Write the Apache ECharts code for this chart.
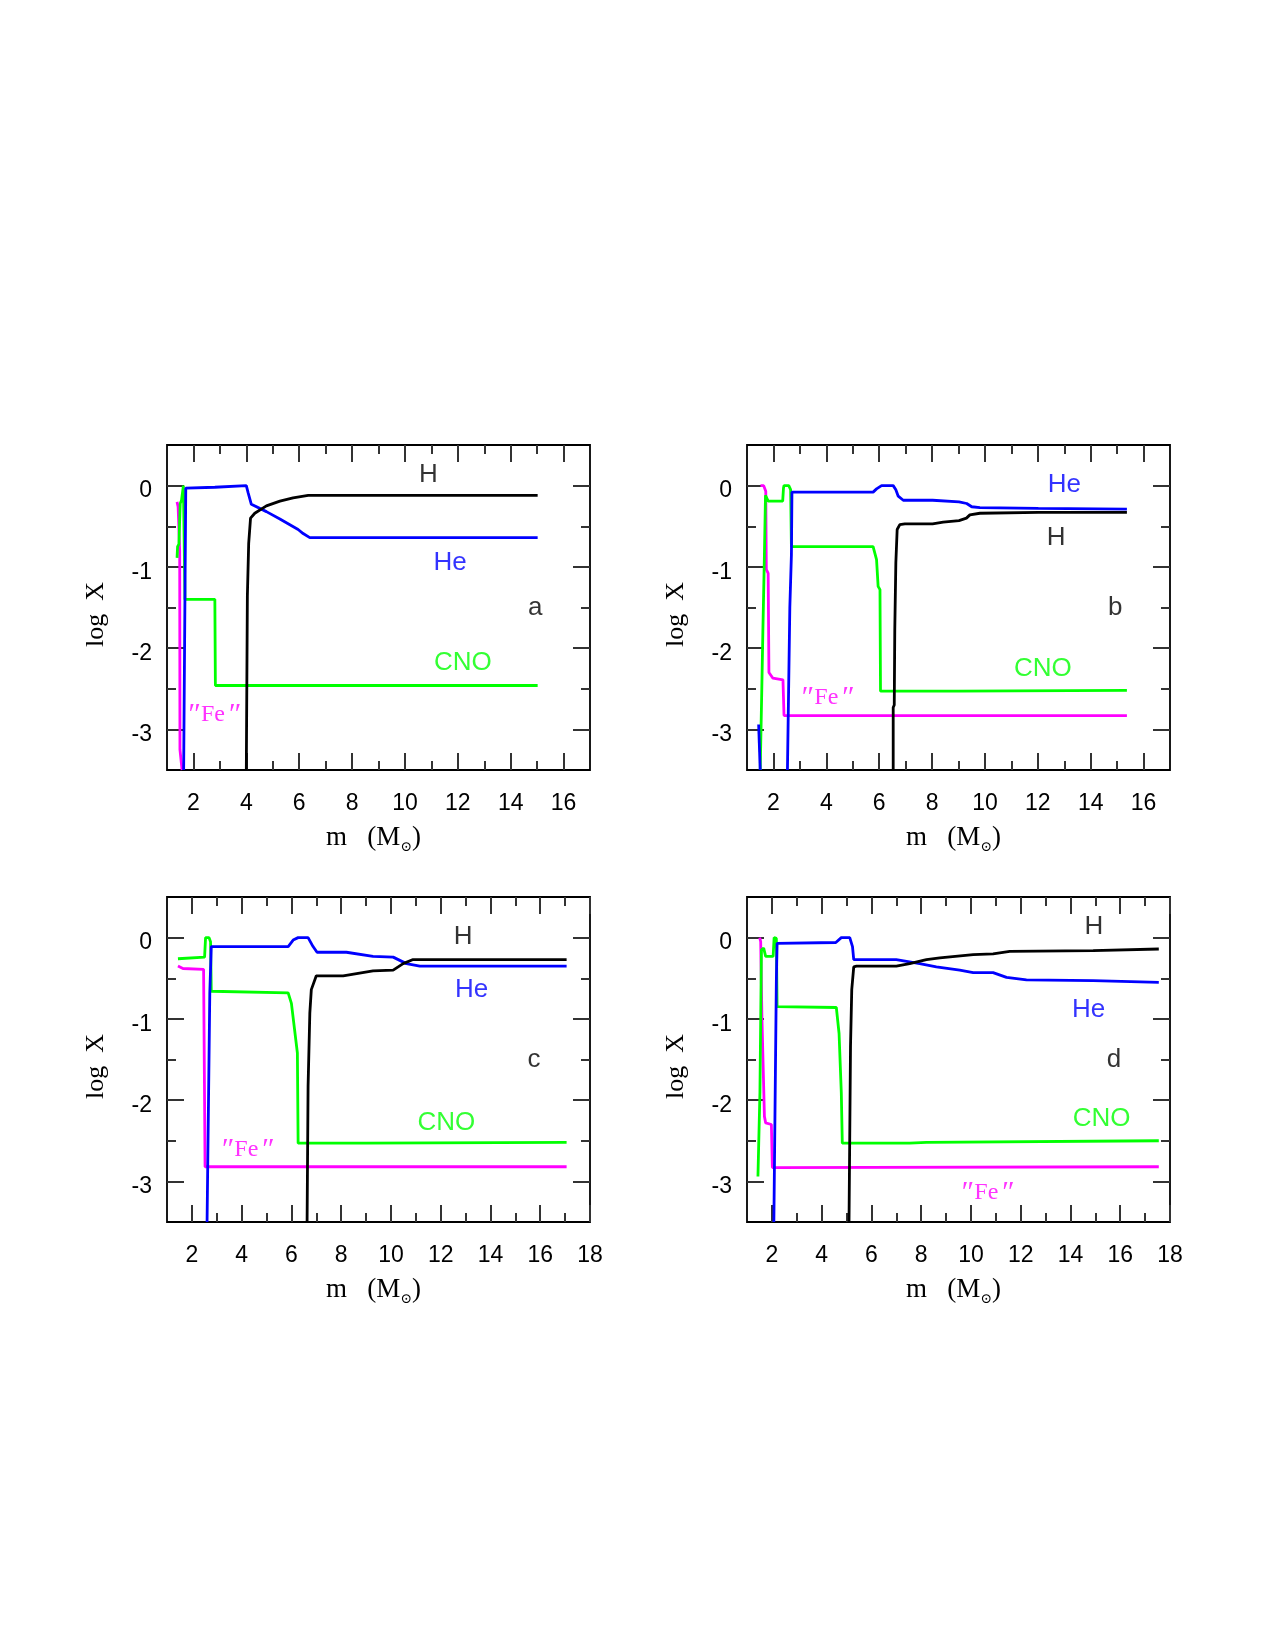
<!DOCTYPE html>
<html>
<head>
<meta charset="utf-8">
<script src="https://cdn.jsdelivr.net/npm/echarts@6/dist/echarts.min.js"></script>
<style>
  html, body { margin: 0; padding: 0; background: #fff; }
  #chart { width: 1275px; height: 1650px; }
</style>
</head>
<body>
<div id="chart"></div>
<script>
// ---- data: [m (Msun), log X] ----
var aH   = [[4.0,-3.5],[4.04,-1.36],[4.09,-0.71],[4.16,-0.40],[4.32,-0.34],[4.76,-0.25],[5.27,-0.19],[5.77,-0.15],[6.34,-0.12],[15.02,-0.12]];
var aHe  = [[1.63,-3.5],[1.71,-0.03],[2.81,-0.02],[2.87,0],[4.0,0],[4.07,-0.09],[4.19,-0.23],[4.76,-0.32],[5.27,-0.41],[5.96,-0.54],[6.15,-0.59],[6.4,-0.64],[15.02,-0.64]];
var aCNO = [[1.38,-0.89],[1.40,-0.75],[1.45,-0.72],[1.50,-0.22],[1.55,-0.18],[1.62,0],[1.66,0],[1.68,-1.40],[2.81,-1.40],[2.83,-2.46],[15.02,-2.46]];
var aFe  = [[1.38,-0.2],[1.42,-0.26],[1.48,-0.8],[1.49,-3.25],[1.55,-3.25],[1.57,-3.5]];

var bH   = [[6.53,-3.5],[6.53,-2.73],[6.57,-2.7],[6.59,-1.77],[6.63,-0.95],[6.68,-0.54],[6.78,-0.48],[6.97,-0.47],[8.02,-0.47],[8.42,-0.45],[9.02,-0.43],[9.3,-0.4],[9.43,-0.36],[9.81,-0.34],[12.02,-0.33],[15.37,-0.33]];
var bHe0 = [[1.44,-2.94],[1.5,-3.5]];
var bHe  = [[2.53,-3.5],[2.62,-1.5],[2.68,-0.85],[2.7,-0.08],[5.77,-0.08],[5.9,-0.04],[6.09,0],[6.53,0],[6.63,-0.05],[6.72,-0.13],[6.91,-0.18],[8.02,-0.18],[9.02,-0.2],[9.31,-0.22],[9.5,-0.26],[9.81,-0.27],[12.02,-0.28],[15.37,-0.29]];
var bCNO = [[1.5,-3.5],[1.56,-2.5],[1.6,-1.8],[1.65,-1.0],[1.7,-0.12],[1.75,-0.11],[1.8,-0.19],[2.35,-0.19],[2.38,-0.03],[2.4,0],[2.58,0],[2.65,-0.05],[2.68,-0.75],[5.77,-0.75],[5.9,-0.91],[5.96,-1.24],[6.03,-1.28],[6.05,-2.53],[9.0,-2.53],[15.37,-2.52]];
var bFe  = [[1.51,0],[1.63,0],[1.71,-0.07],[1.73,-1.03],[1.8,-1.08],[1.83,-2.3],[1.98,-2.37],[2.36,-2.39],[2.4,-2.83],[15.37,-2.83]];

var cH   = [[6.63,-3.5],[6.67,-1.83],[6.74,-0.93],[6.8,-0.64],[7.0,-0.47],[8.08,-0.47],[9.28,-0.41],[10.09,-0.4],[10.49,-0.32],[10.89,-0.27],[11.16,-0.27],[17.06,-0.27]];
var cHe  = [[2.61,-3.5],[2.72,-0.68],[2.78,-0.11],[5.87,-0.11],[6.07,-0.03],[6.27,0],[6.67,0],[6.87,-0.11],[7.03,-0.18],[8.21,-0.18],[9.28,-0.23],[10.09,-0.24],[10.62,-0.32],[11.16,-0.35],[17.06,-0.35]];
var cCNO = [[1.44,-0.26],[2.51,-0.24],[2.55,0],[2.69,0],[2.75,-0.05],[2.78,-0.66],[5.87,-0.68],[6.0,-0.81],[6.13,-1.14],[6.24,-1.42],[6.27,-2.53],[9.0,-2.53],[17.06,-2.52]];
var cFe  = [[1.44,-0.35],[1.64,-0.38],[2.47,-0.39],[2.53,-2.82],[17.06,-2.82]];

var dH   = [[5.1,-3.5],[5.16,-1.34],[5.21,-0.64],[5.29,-0.36],[5.4,-0.35],[7.0,-0.35],[7.54,-0.32],[8.21,-0.27],[8.75,-0.25],[10.09,-0.21],[10.89,-0.2],[11.56,-0.17],[14.91,-0.16],[17.55,-0.14]];
var dHe  = [[2.08,-3.5],[2.18,-0.52],[2.21,-0.07],[4.57,-0.06],[4.79,0],[5.13,0],[5.24,-0.11],[5.29,-0.27],[7.0,-0.27],[7.94,-0.32],[8.61,-0.36],[9.55,-0.4],[10.09,-0.43],[10.89,-0.43],[11.43,-0.49],[12.23,-0.52],[14.91,-0.53],[17.55,-0.55]];
var dCNO = [[1.44,-2.94],[1.52,-1.9],[1.58,-0.15],[1.67,-0.13],[1.75,-0.23],[2.05,-0.23],[2.09,0],[2.18,-0.01],[2.21,-0.85],[4.59,-0.86],[4.70,-1.18],[4.79,-1.91],[4.83,-2.53],[7.54,-2.53],[8.21,-2.52],[17.55,-2.5]];
var dFe  = [[1.51,0],[1.55,-0.05],[1.6,-0.99],[1.68,-1.0],[1.7,-2.2],[1.75,-2.28],[1.98,-2.3],[2.02,-2.83],[17.55,-2.82]];

// text labels: [text, m, logX, kind]
var FE = '{q|\u2033}{f|Fe}{q|\u2033}';
var aLabels = [['H',10.89,0.135,'H'],['He',11.71,-0.95,'He'],['CNO',12.19,-2.18,'CNO'],[FE,2.74,-2.82,'Fe'],['a',14.93,-1.5,'tag']];
var bLabels = [['He',13.0,0.01,'He'],['H',12.69,-0.64,'H'],['CNO',12.19,-2.25,'CNO'],[FE,4.0,-2.61,'Fe'],['b',14.93,-1.5,'tag']];
var cLabels = [['H',12.9,0.01,'H'],['He',13.24,-0.64,'He'],['CNO',12.23,-2.28,'CNO'],[FE,4.19,-2.61,'Fe'],['c',15.75,-1.5,'tag']];
var dLabels = [['H',14.94,0.135,'H'],['He',14.73,-0.89,'He'],['CNO',15.25,-2.23,'CNO'],[FE,10.62,-3.14,'Fe'],['d',15.75,-1.5,'tag']];

// ticks
var xMajorAB = [2,4,6,8,10,12,14,16];
var xMinorAB = [3,5,7,9,11,13,15];
var xMajorCD = [2,4,6,8,10,12,14,16,18];
var xMinorCD = [3,5,7,9,11,13,15,17];
var yMajor = [-3,-2,-1,0];
var yMinor = [-2.5,-1.5,-0.5];

var colors = { H: '#000000', He: '#0000ff', CNO: '#00ff00', Fe: '#ff00ff', tag: '#000000' };
var SANS = '"Liberation Sans", Arial, Helvetica, sans-serif';
var SERIF = '"Liberation Serif", "Times New Roman", "DejaVu Serif", serif';

var panels = [
  { pos: [167, 445], xmax: 17, xm: xMajorAB, xn: xMinorAB, lines: [['Fe', aFe], ['CNO', aCNO], ['He', aHe], ['H', aH]], labels: aLabels },
  { pos: [747, 445], xmax: 17, xm: xMajorAB, xn: xMinorAB, lines: [['Fe', bFe], ['CNO', bCNO], ['He', bHe0], ['He', bHe], ['H', bH]], labels: bLabels },
  { pos: [167, 897], xmax: 18, xm: xMajorCD, xn: xMinorCD, lines: [['Fe', cFe], ['CNO', cCNO], ['He', cHe], ['H', cH]], labels: cLabels },
  { pos: [747, 897], xmax: 18, xm: xMajorCD, xn: xMinorCD, lines: [['Fe', dFe], ['CNO', dCNO], ['He', dHe], ['H', dH]], labels: dLabels }
];

var option = { animation: false, backgroundColor: '#fff', grid: [], xAxis: [], yAxis: [], series: [] };

function tickAxis(g, pos, vals, len, isMain, p, dim) {
  var ax = {
    gridIndex: g, type: 'value', position: pos,
    axisLine: { show: false, onZero: false }, splitLine: { show: false },
    axisTick: { show: true, inside: true, length: len, customValues: vals, lineStyle: { color: '#333', width: 2 } },
    axisLabel: { show: false }
  };
  if (dim === 'x') { ax.min = 1; ax.max = p.xmax; } else { ax.min = -3.5; ax.max = 0.5; }
  if (isMain && dim === 'x') {
    ax.axisLabel = { show: true, customValues: p.xm, margin: 22, fontSize: 23, fontFamily: SANS, color: '#000' };
    ax.name = '{n|m   (M}{s|\u2299}{n|)}';
    ax.nameLocation = 'middle';
    ax.nameGap = 52;
    ax.nameTextStyle = { color: '#000', padding: [0, 10, 0, 0], rich: {
      n: { fontFamily: SERIF, fontSize: 27, lineHeight: 32, color: '#000' },
      s: { fontFamily: SERIF, fontSize: 14, lineHeight: 14, verticalAlign: 'bottom', color: '#000' }
    } };
  }
  if (isMain && dim === 'y') {
    ax.axisLabel = { show: true, customValues: yMajor, margin: 15, fontSize: 23, fontFamily: SANS, color: '#000',
      verticalAlign: 'top', lineHeight: 11 };
    ax.name = 'log  X';
    ax.nameLocation = 'middle';
    ax.nameGap = 58;
    ax.nameTextStyle = { fontFamily: SERIF, fontSize: 26, color: '#000', padding: [0, 14, 0, 0] };
  }
  return ax;
}

panels.forEach(function (p, g) {
  option.grid.push({ left: p.pos[0], top: p.pos[1], width: 423, height: 325, show: true,
    borderColor: '#000', borderWidth: 1.8, backgroundColor: 'transparent' });
  option.xAxis.push(tickAxis(g, 'bottom', p.xm, 17, true, p, 'x'));
  option.xAxis.push(tickAxis(g, 'bottom', p.xn, 9, false, p, 'x'));
  option.xAxis.push(tickAxis(g, 'top', p.xm, 17, false, p, 'x'));
  option.xAxis.push(tickAxis(g, 'top', p.xn, 9, false, p, 'x'));
  option.yAxis.push(tickAxis(g, 'left', yMajor, 17, true, p, 'y'));
  option.yAxis.push(tickAxis(g, 'left', yMinor, 9, false, p, 'y'));
  option.yAxis.push(tickAxis(g, 'right', yMajor, 17, false, p, 'y'));
  option.yAxis.push(tickAxis(g, 'right', yMinor, 9, false, p, 'y'));

  p.lines.forEach(function (l) {
    option.series.push({
      type: 'line', xAxisIndex: 4 * g, yAxisIndex: 4 * g, data: l[1],
      symbol: 'none', clip: true, silent: true,
      lineStyle: { color: colors[l[0]], width: 2.8 }
    });
  });

  option.series.push({
    type: 'scatter', xAxisIndex: 4 * g, yAxisIndex: 4 * g, symbolSize: 1, silent: true,
    itemStyle: { color: 'rgba(0,0,0,0)' },
    data: p.labels.map(function (t) {
      var isFe = t[3] === 'Fe';
      return {
        value: [t[1], t[2]],
        label: {
          show: true, position: 'inside', formatter: t[0],
          color: colors[t[3]],
          fontFamily: isFe ? SERIF : SANS,
          fontSize: isFe ? 24 : 26,
          rich: isFe ? {
            q: { fontFamily: SERIF, fontSize: 30, fontStyle: 'italic', color: colors.Fe, padding: [0, 2, 0, 2] },
            f: { fontFamily: SERIF, fontSize: 24, color: colors.Fe }
          } : undefined
        }
      };
    })
  });
});

var chart = echarts.init(document.getElementById('chart'));
chart.setOption(option);
</script>
</body>
</html>
